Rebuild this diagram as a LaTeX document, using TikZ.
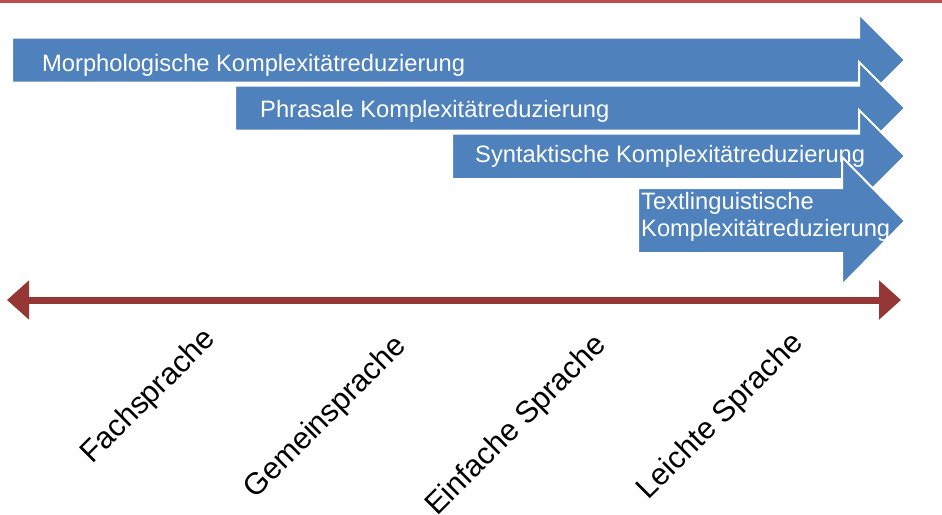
\documentclass[tikz,border=0pt]{standalone}
\usepackage{fontspec}
\setmainfont{Liberation Sans}
\usetikzlibrary{arrows.meta}

\definecolor{barblue}{HTML}{4F81BD}
\definecolor{scalered}{HTML}{953735}
\definecolor{rulered}{HTML}{BE4B50}

\tikzset{
  band/.style={fill=barblue, draw=white, line width=2pt, line join=miter},
  bandtext/.style={text=white, font=\fontsize{23.7}{27}\selectfont,
    inner sep=0pt, anchor=base west, align=left},
  levellabel/.style={font=\fontsize{30.5}{36}\selectfont, inner sep=0pt, rotate=45},
  scalearrow/.style={draw=scalered, line width=7pt,
    {Triangle[length=22pt,width=38pt]}-{Triangle[length=22pt,width=38pt]}},
  toprule/.style={draw=rulered, line width=3pt}
}

\begin{document}
\begin{tikzpicture}[x=1pt, y=-1pt]
  \useasboundingbox (0,0) rectangle (942,514);

  % rule along the top edge
  \coordinate (ruleL) at (0,1.5);
  \coordinate (ruleR) at (942,1.5);
  \draw[toprule] (ruleL) -- (ruleR);

  % staggered reduction arrows, each drawn over the previous one
  \draw[band] (12,37.5) -- (859,37.5) -- (859,14) -- (905,60) -- (859,106)
    -- (859,82.5) -- (12,82.5) -- cycle;
  \draw[band] (235,85.5) -- (859,85.5) -- (859,62) -- (905,108) -- (859,154)
    -- (859,130.5) -- (235,130.5) -- cycle;
  \draw[band] (452,133.5) -- (859,133.5) -- (859,110) -- (905,156) -- (859,202)
    -- (859,179) -- (452,179) -- cycle;
  \draw[band] (638,188) -- (842,188) -- (842,157) -- (905,221) -- (842,285)
    -- (842,253) -- (638,253) -- cycle;

  \node[bandtext] (t1) at (42,71) {Morphologische Komplexitätreduzierung};
  \node[bandtext] (t2) at (260,117) {Phrasale Komplexitätreduzierung};
  \node[bandtext] (t3) at (475,162) {Syntaktische Komplexitätreduzierung};
  \node[bandtext, anchor=north west] (t4) at (641,192)
    {Textlinguistische\\Komplexitätreduzierung};

  % language scale
  \coordinate (scaleL) at (7,300);
  \coordinate (scaleR) at (901,300);
  \draw[scalearrow] (scaleL) -- (scaleR);

  \node[levellabel] (l1) at (149,397) {Fachsprache};
  \node[levellabel] (l2) at (326,418) {Gemeinsprache};
  \node[levellabel] (l3) at (517,426) {Einfache Sprache};
  \node[levellabel] (l4) at (721,417) {Leichte Sprache};
\end{tikzpicture}
\end{document}
